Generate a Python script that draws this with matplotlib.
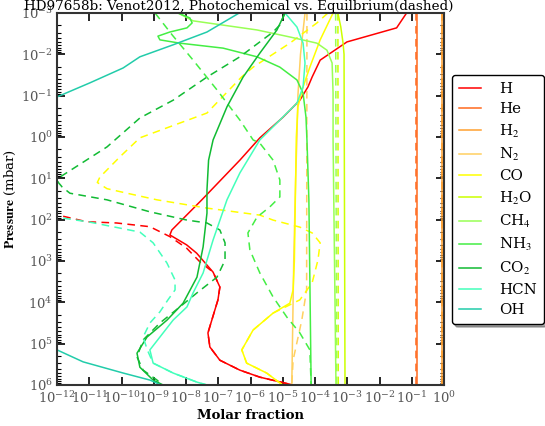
import matplotlib
matplotlib.use('Agg')
import matplotlib.pyplot as plt
import numpy as np

plt.rcParams['font.family'] = ['DejaVu Serif']
plt.rcParams['mathtext.fontset'] = 'stix'

# valores en log10: x = fraccion molar, p = presion (mbar)
H_p = [-3.0, -2.64, -2.30, -1.86, -1.45, -1.21, -0.89, -0.48, 0.02, 0.56, 1.52, 2.25, 2.37, 2.61, 2.81, 3.27, 3.63, 3.94, 4.43, 4.74, 5.08, 5.40, 5.64, 5.81, 6.0]
H_x = [-1.16, -1.47, -3.01, -3.84, -4.09, -4.22, -4.47, -4.99, -5.71, -6.33, -7.51, -8.44, -8.50, -7.98, -7.67, -7.16, -6.95, -7.01, -7.20, -7.32, -7.26, -6.95, -6.33, -5.71, -4.68]
H_eq_p = [1.80, 1.89, 2.05, 2.08, 2.17, 2.41, 2.69, 3.02, 3.27, 3.63, 3.94, 4.43, 4.74, 5.08, 5.40, 5.64, 5.81, 6.0]
H_eq_x = [-12.6, -11.96, -11.08, -10.15, -9.12, -8.50, -7.98, -7.57, -7.16, -6.95, -7.01, -7.20, -7.32, -7.26, -6.95, -6.33, -5.71, -4.68]

He_p = [-3.0, 6.0]
He_x = [-0.84, -0.84]
He_eq_x = [-0.88, -0.88]

H2_p = [-3.0, 6.0]
H2_x = [-0.05, -0.05]
H2_eq_x = [-0.06, -0.06]

N2_p = [-3.0, -2.0, -1.0, 0.0, 1.0, 2.0, 3.0, 4.0, 5.0, 6.0]
N2_x = [-4.31, -4.45, -4.53, -4.56, -4.60, -4.63, -4.66, -4.68, -4.70, -4.72]
N2_eq_p = [-3.0, 3.70, 4.43, 5.40, 6.0]
N2_eq_x = [-4.25, -4.26, -4.41, -4.68, -4.72]

CO_p = [-3.0, -2.35, -1.69, -1.21, -0.73, 0.0, 1.0, 2.0, 3.0, 3.70, 4.02, 4.26, 4.67, 5.15, 5.47, 5.71, 5.95, 6.05]
CO_x = [-3.44, -3.84, -4.16, -4.37, -4.53, -4.58, -4.60, -4.62, -4.64, -4.68, -4.78, -5.30, -5.92, -6.27, -6.12, -5.50, -5.09, -4.90]
CO_eq_p = [-3.0, -2.76, -2.27, -1.69, -1.45, -0.58, 0.02, 0.48, 0.97, 1.10, 1.25, 1.36, 1.52, 1.72, 1.89, 2.01, 2.18, 2.32, 2.56, 2.98, 3.53, 3.94, 4.26, 4.67, 5.15, 5.47, 5.71, 5.95, 6.05]
CO_eq_x = [-3.60, -3.94, -4.78, -5.92, -6.28, -7.35, -9.43, -10.05, -10.67, -10.75, -10.45, -9.83, -8.90, -7.35, -5.71, -5.30, -4.47, -4.09, -3.84, -3.91, -4.09, -4.47, -5.30, -5.92, -6.27, -6.12, -5.50, -5.09, -4.90]

H2O_p = [-3.0, -2.66, -2.27, -2.0, 6.0]
H2O_x = [-3.29, -3.20, -3.13, -3.10, -3.07]
H2O_eq_p = [-3.0, 6.0]
H2O_eq_x = [-3.29, -3.28]

CH4_p = [-3.0, -2.85, -2.81, -2.59, -2.42, -2.27, -2.10, -1.79, -1.06, 0.07, 6.0]
CH4_x = [-8.25, -7.88, -7.78, -5.80, -4.78, -3.94, -3.63, -3.47, -3.44, -3.44, -3.35]
CH4_eq_p = [-3.0, 6.0]
CH4_eq_x = [-3.36, -3.33]

NH3_p = [-3.0, -2.88, -2.76, -2.64, -2.54, -2.44, -2.35, -2.27, -2.15, -1.94, -1.69, -1.38, -1.06, -0.48, 0.07, 1.52, 6.0]
NH3_x = [-8.25, -7.88, -7.81, -7.97, -8.50, -8.87, -8.81, -8.19, -6.85, -5.80, -5.09, -4.56, -4.37, -4.28, -4.25, -4.19, -4.12]
NH3_eq_p = [-3.0, -2.47, -1.86, -1.14, -0.41, 0.07, 0.15, 0.56, 1.04, 1.45, 1.69, 1.94, 2.32, 2.73, 3.29, 3.87, 4.36, 4.74, 5.15, 6.0]
NH3_eq_x = [-8.96, -8.43, -7.78, -7.04, -6.33, -5.92, -5.71, -5.30, -5.09, -5.09, -5.40, -5.80, -6.08, -6.02, -5.71, -5.30, -4.87, -4.47, -4.16, -4.12]

CO2_p = [-3.0, -2.59, -2.03, -1.45, -0.73, 0.07, 0.56, 1.28, 1.84, 2.66, 3.39, 4.02, 4.43, 4.84, 5.23, 5.57, 5.88, 6.0]
CO2_x = [-4.93, -5.18, -5.71, -6.23, -6.73, -7.16, -7.30, -7.35, -7.35, -7.47, -7.66, -8.09, -8.59, -9.21, -9.52, -9.43, -9.02, -8.71]
CO2_eq_p = [-3.0, -2.71, -2.54, -1.94, -1.45, -0.89, -0.46, 0.24, 0.97, 1.09, 1.21, 1.36, 1.52, 1.81, 2.01, 2.08, 2.25, 2.56, 2.98, 3.39, 3.77, 4.11, 4.50, 4.91, 5.32, 5.64, 5.88, 6.02]
CO2_eq_x = [-4.93, -5.09, -5.30, -6.33, -7.35, -8.40, -9.43, -10.45, -11.91, -11.97, -11.84, -11.60, -10.45, -9.12, -7.97, -7.35, -6.95, -6.79, -6.79, -7.04, -7.66, -8.19, -8.81, -9.33, -9.52, -9.33, -8.90, -8.71]

HCN_p = [-3.0, -2.66, -2.27, -1.79, -1.21, -0.82, -0.41, 0.07, 0.87, 1.52, 2.49, 3.29, 3.77, 4.11, 4.43, 4.84, 5.15, 5.47, 5.71, 5.93, 6.02]
HCN_x = [-4.93, -4.56, -4.37, -4.31, -4.37, -4.56, -5.09, -5.71, -6.33, -6.73, -7.16, -7.47, -7.78, -7.97, -8.40, -8.81, -9.12, -9.02, -8.40, -7.66, -7.26]
HCN_eq_p = [1.85, 1.94, 2.06, 2.30, 2.56, 3.05, 3.46, 3.70, 3.94, 4.23, 4.50, 4.84, 5.15, 5.47, 5.71, 5.93, 6.02]
HCN_eq_x = [-12.6, -12.0, -10.98, -9.43, -9.02, -8.59, -8.34, -8.34, -8.56, -8.81, -9.12, -9.33, -9.20, -9.02, -8.40, -7.66, -7.26]

OH_p = [-3.0, -2.54, -2.23, -1.94, -1.67, -1.31, -0.97, -0.5, 0.0, 2.0, 4.0, 5.0, 5.15, 5.44, 5.71, 5.88, 6.02]
OH_x = [-6.35, -7.35, -8.40, -9.43, -9.95, -10.98, -12.0, -13.0, -14.0, -16.0, -16.0, -12.6, -12.0, -11.19, -9.95, -9.12, -8.71]

especies = ['H', 'He', 'H$_2$', 'N$_2$', 'CO', 'H$_2$O', 'CH$_4$', 'NH$_3$', 'CO$_2$', 'HCN', 'OH']
colores = ['#ff0000', '#ff6a1e', '#ffa030', '#ffd060', '#ffff00', '#ccff00',
           '#99ff55', '#44ee44', '#11bb33', '#44ffbb', '#22ccaa']

foto = [(H_x, H_p), (He_x, He_p), (H2_x, H2_p), (N2_x, N2_p), (CO_x, CO_p),
        (H2O_x, H2O_p), (CH4_x, CH4_p), (NH3_x, NH3_p), (CO2_x, CO2_p),
        (HCN_x, HCN_p), (OH_x, OH_p)]
equi = [(H_eq_x, H_eq_p), (He_eq_x, He_p), (H2_eq_x, H2_p), (N2_eq_x, N2_eq_p),
        (CO_eq_x, CO_eq_p), (H2O_eq_x, H2O_eq_p), (CH4_eq_x, CH4_eq_p),
        (NH3_eq_x, NH3_eq_p), (CO2_eq_x, CO2_eq_p), (HCN_eq_x, HCN_eq_p), None]

fig = plt.figure(figsize=(5.45, 4.26), dpi=100)
ax = fig.add_axes([0.1046, 0.0962, 0.7101, 0.8733])

for i in range(len(especies)):
    x, p = foto[i]
    ax.plot(10.0**np.array(x, dtype=float), 10.0**np.array(p, dtype=float),
            color=colores[i], lw=1.1, label=especies[i])
    if equi[i] is not None:
        xe, pe = equi[i]
        ax.plot(10.0**np.array(xe, dtype=float), 10.0**np.array(pe, dtype=float),
                color=colores[i], lw=1.1, ls=(0, (5, 3.5)))

ax.set_xscale('log')
ax.set_yscale('log')
ax.set_xlim(1e-12, 1)
ax.set_ylim(1e6, 1e-3)
ax.xaxis.set_major_locator(matplotlib.ticker.LogLocator(base=10, numticks=20))
ax.xaxis.set_minor_locator(matplotlib.ticker.NullLocator())
ax.yaxis.set_major_locator(matplotlib.ticker.LogLocator(base=10, numticks=20))
ax.yaxis.set_minor_locator(matplotlib.ticker.LogLocator(base=10, subs=np.arange(2, 10), numticks=20))
ax.yaxis.set_minor_formatter(matplotlib.ticker.NullFormatter())
ax.tick_params(which='both', direction='in', top=True, right=True, labelsize=9.5, labelcolor='#555555')
ax.tick_params(which='major', length=6, width=1.2, pad=3)
ax.tick_params(axis='x', which='major', pad=4)
ax.tick_params(which='minor', length=3, width=0.8)
for s in ax.spines.values():
    s.set_linewidth(1.5)
    s.set_color('#333333')

ax.set_xlabel('Molar fraction', fontsize=9.5, fontweight='bold', labelpad=2)
ax.set_ylabel(r'$\bf{Pressure}$ (mbar)', fontsize=9.5, labelpad=2)
ax.set_title('HD97658b: Venot2012, Photochemical vs. Equilbrium(dashed)', fontsize=9.7, pad=2, x=0.47)

leg = ax.legend(loc='upper left', bbox_to_anchor=(1.021, 0.833), borderaxespad=0,
                fontsize=10.8, handlelength=1.5, handletextpad=1.2, labelspacing=0.42,
                frameon=True, fancybox=True, shadow=True, borderpad=0.45)
leg.get_frame().set_edgecolor('black')

fig.savefig('out.png', dpi=100)
